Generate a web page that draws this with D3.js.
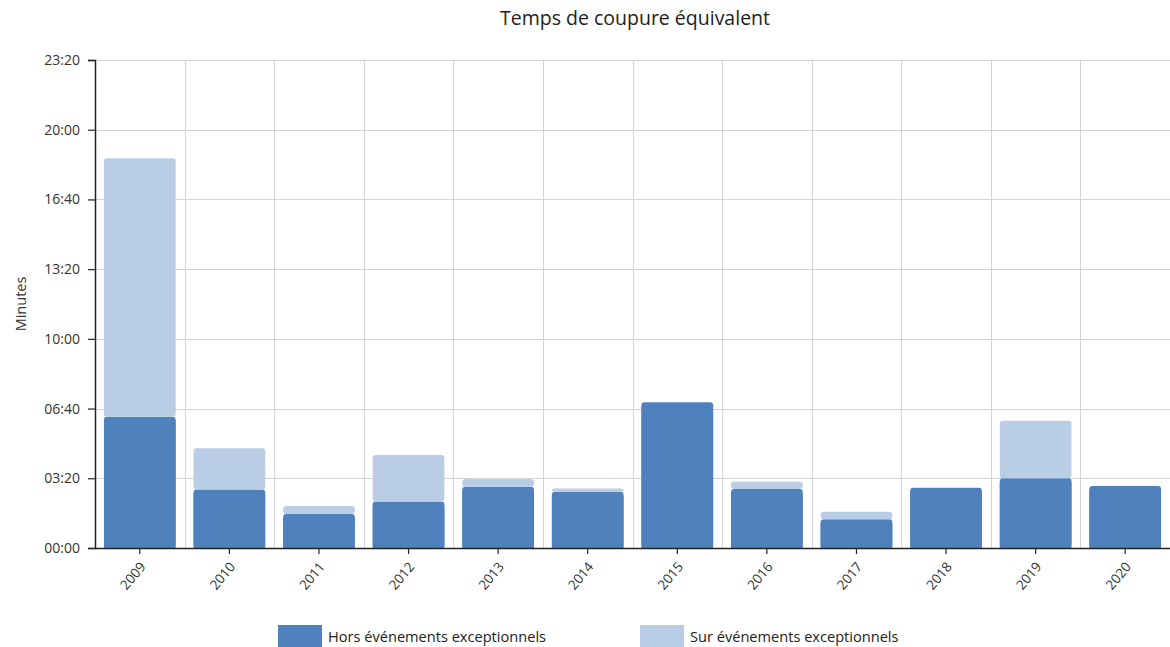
<!DOCTYPE html>
<html>
<head>
<meta charset="utf-8">
<script src="https://cdn.jsdelivr.net/npm/d3@7"></script>
<style>
  html, body { margin: 0; padding: 0; background: #fff; }
  svg { display: block; font-family: "Open Sans", sans-serif; }
</style>
</head>
<body>
<svg id="chart" width="1170" height="647"></svg>
<script>
// Equivalent outage time per year, in minutes
const years = ["2009","2010","2011","2012","2013","2014","2015","2016","2017","2018","2019","2020"];
const horsEvenements = [6.28, 2.80, 1.62, 2.22, 2.93, 2.69, 6.97, 2.82, 1.38, 2.88, 3.33, 2.97];
const surEvenements  = [12.35, 1.97, 0.39, 2.23, 0.37, 0.16, 0, 0.35, 0.35, 0, 2.75, 0];
const seriesNames = ["Hors événements exceptionnels", "Sur événements exceptionnels"];
const seriesColors = ["#4f81bd", "#b9cde5"];
const yTickLabels = ["00:00","03:20","06:40","10:00","13:20","16:40","20:00","23:20"];

// "mm:ss" -> minutes
const toMinutes = s => { const [m, sec] = s.split(":").map(Number); return m + sec / 60; };
const yTicks = yTickLabels.map(toMinutes);

const svg = d3.select("#chart");
const margin = { left: 95, right: 0, top: 60, bottom: 99 };
const W = 1170, H = 647;
const plotBottom = H - margin.bottom;

const x = d3.scaleBand().domain(years).range([margin.left, W - margin.right]).paddingInner(0.2).paddingOuter(0.1);
const xOuter = d3.scaleBand().domain(years).range([margin.left, W - margin.right]).padding(0);
const y = d3.scaleLinear().domain([0, d3.max(yTicks)]).range([plotBottom, margin.top]);

// grid
const grid = svg.append("g").attr("stroke", "#d4d4d4").attr("stroke-width", 1);
grid.selectAll("line.h").data(yTicks.slice(1)).join("line")
  .attr("x1", margin.left).attr("x2", W)
  .attr("y1", d => Math.round(y(d)) + 0.5).attr("y2", d => Math.round(y(d)) + 0.5);
grid.selectAll("line.v").data(years.slice(1)).join("line")
  .attr("x1", d => Math.round(xOuter(d)) + 0.5).attr("x2", d => Math.round(xOuter(d)) + 0.5)
  .attr("y1", margin.top).attr("y2", plotBottom);

// stacked bars
const rows = years.map((yr, i) => ({ year: yr, hors: horsEvenements[i], sur: surEvenements[i] }));
const stack = d3.stack().keys(["hors", "sur"])(rows);
const bars = svg.append("g");
stack.forEach((layer, li) => {
  bars.append("g").attr("fill", seriesColors[li])
    .selectAll("rect").data(layer.filter(d => d[1] - d[0] > 0)).join("rect")
    .attr("x", d => x(d.data.year))
    .attr("width", x.bandwidth())
    .attr("y", d => y(d[1]))
    .attr("height", d => y(d[0]) - y(d[1]))
    .attr("rx", 3).attr("ry", 3);
});
// square-off the bottom corners of the base series
bars.append("g").attr("fill", seriesColors[0])
  .selectAll("rect").data(stack[0]).join("rect")
  .attr("x", d => x(d.data.year))
  .attr("width", x.bandwidth())
  .attr("y", d => y(d[1]) + 4)
  .attr("height", d => Math.max(0, y(d[0]) - y(d[1]) - 4));

// y axis
const yAxis = d3.axisLeft(y).tickValues(yTicks).tickFormat((d, i) => yTickLabels[i]).tickSize(7).tickPadding(8);
const gy = svg.append("g").attr("transform", `translate(${margin.left},0)`).call(yAxis);
gy.select(".domain").attr("stroke", "#222").attr("stroke-width", 1.5);
gy.selectAll(".tick line").attr("stroke", "#222").attr("stroke-width", 1.2);
gy.selectAll(".tick text").attr("fill", "#333").style("font-size", "14px").style("font-family", "'Open Sans', sans-serif");

// x axis
const xAxis = d3.axisBottom(x).tickSize(6).tickSizeOuter(0);
const gx = svg.append("g").attr("transform", `translate(0,${plotBottom})`).call(xAxis);
gx.select(".domain").attr("stroke", "#222").attr("stroke-width", 1.5);
gx.selectAll(".tick line").attr("stroke", "#222").attr("stroke-width", 1.2);
gx.selectAll(".tick text").attr("fill", "#333").style("font-size", "13.5px").style("font-family", "'Open Sans', sans-serif")
  .attr("text-anchor", "end").attr("x", 0).attr("y", 0).attr("dy", "0.35em")
  .attr("transform", "translate(3,16) rotate(-50)");

// y title
svg.append("text").attr("transform", `translate(21,${(margin.top + plotBottom) / 2}) rotate(-90)`)
  .attr("text-anchor", "middle").attr("dy", "0.35em").attr("fill", "#333").style("font-size", "14.5px").text("Minutes");

// chart title
svg.append("text").attr("x", 635).attr("y", 25).attr("text-anchor", "middle")
  .attr("fill", "#222").style("font-size", "19.5px").text("Temps de coupure équivalent");

// legend
const legendX = [278, 640];
const legend = svg.append("g");
seriesNames.forEach((name, i) => {
  legend.append("rect").attr("x", legendX[i]).attr("y", 625).attr("width", 44).attr("height", 24).attr("fill", seriesColors[i]);
  legend.append("text").attr("x", legendX[i] + 50).attr("y", 642).attr("fill", "#222")
    .style("font-size", "14.6px").text(name);
});
</script>
</body>
</html>
